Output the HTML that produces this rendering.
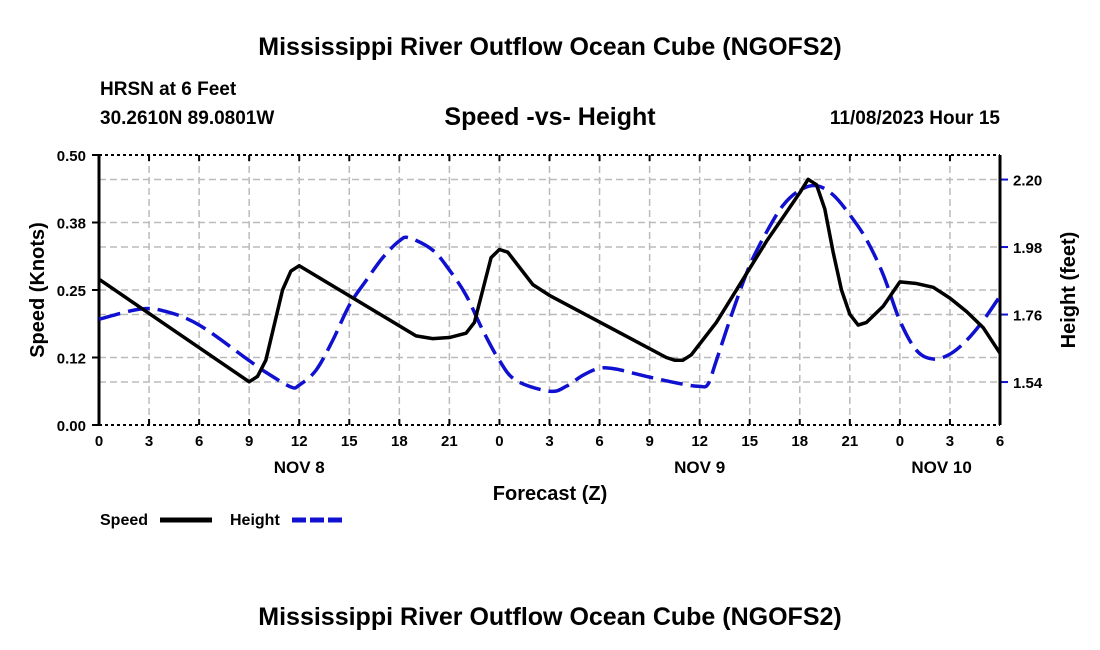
<!DOCTYPE html>
<html><head><meta charset="utf-8"><style>
body{margin:0;background:#fff;}
svg{display:block;font-family:"Liberation Sans",sans-serif;font-weight:bold;}
</style></head><body>
<svg id="chart" width="1100" height="650">
<text x="550" y="55" font-size="25" text-anchor="middle">Mississippi River Outflow Ocean Cube (NGOFS2)</text>
<text x="100" y="95" font-size="19">HRSN at 6 Feet</text>
<text x="100" y="124" font-size="19">30.2610N  89.0801W</text>
<text x="550" y="125" font-size="25" text-anchor="middle">Speed -vs- Height</text>
<text x="1000" y="124" font-size="19" text-anchor="end">11/08/2023 Hour 15</text>
<g id="grid"></g>
<g id="axes"></g>
<g id="series"></g>
<text transform="translate(44,290) rotate(-90)" font-size="20" text-anchor="middle">Speed (Knots)</text>
<text transform="translate(1075,290) rotate(-90)" font-size="20" text-anchor="middle">Height (feet)</text>
<text x="550" y="500" font-size="20" text-anchor="middle">Forecast (Z)</text>
<g>
<text x="100" y="525" font-size="16">Speed</text>
<line x1="160" y1="520" x2="212" y2="520" stroke="#000" stroke-width="5"/>
<text x="230" y="525" font-size="16">Height</text>
<line x1="292" y1="520" x2="342" y2="520" stroke="#1010d0" stroke-width="5" stroke-dasharray="14,4"/>
</g>
<text x="550" y="625" font-size="25" text-anchor="middle">Mississippi River Outflow Ocean Cube (NGOFS2)</text>
</svg>
<script>
const xTickLabels=["0","3","6","9","12","15","18","21","0","3","6","9","12","15","18","21","0","3","6"];
const dayLabels=["NOV 8","NOV 9","NOV 10"];
const dayHours=[12,36,50.5];
const speedTicks=[0,0.125,0.25,0.375,0.5];
const speedTickLabels=["0.00","0.12","0.25","0.38","0.50"];
const heightTicks=[1.54,1.76,1.98,2.20];
const heightTickLabels=["1.54","1.76","1.98","2.20"];
const speedHours=[0,9,9.5,10,11,11.5,12,19,20,21,22,22.5,23,23.5,24,24.5,25,26,27,34,34.5,35,35.5,36,37,38,39,40,41,42,42.5,43,43.5,44,44.5,45,45.5,46,47,48,49,50,51,52,53,54];
const speedValues=[0.27,0.08,0.09,0.12,0.25,0.285,0.295,0.165,0.16,0.162,0.17,0.19,0.25,0.31,0.325,0.32,0.3,0.26,0.24,0.125,0.12,0.12,0.13,0.15,0.19,0.24,0.29,0.34,0.385,0.43,0.455,0.445,0.4,0.32,0.25,0.205,0.185,0.19,0.22,0.265,0.262,0.255,0.235,0.21,0.18,0.133];
const heightHours=[0,2.5,4,6,9,10,11.5,12,13,14,15,16,17,18,18.6,20,21,22,23,24,25,27,28,29,30,31,33,35,36,36.5,37,38,39,40,41,42,43,44,45,46,47,48,49,50,51,52,53,54];
const heightValues=[1.745,1.778,1.77,1.726,1.61,1.572,1.524,1.53,1.578,1.675,1.79,1.87,1.945,2.0,2.01,1.97,1.905,1.823,1.709,1.61,1.545,1.51,1.526,1.562,1.585,1.582,1.556,1.533,1.526,1.533,1.61,1.773,1.92,2.028,2.116,2.165,2.18,2.15,2.085,2.004,1.89,1.74,1.643,1.615,1.631,1.676,1.741,1.82];
const X0=99,X1=1000,Y0=425,Y1=155,HMAX=54;
const xs=h=>X0+(X1-X0)*h/HMAX;
const ys=v=>Y0-(Y0-Y1)*v/0.5;
const HMIN=1.40,HTOP=2.28;
const yh=v=>Y0-(Y0-Y1)*(v-HMIN)/(HTOP-HMIN);
const NS="http://www.w3.org/2000/svg";
function mk(p,t,a){const e=document.createElementNS(NS,t);for(const k in a)e.setAttribute(k,a[k]);p.appendChild(e);return e;}
const grid=document.getElementById('grid'),axes=document.getElementById('axes'),ser=document.getElementById('series');
xTickLabels.forEach((l,i)=>{const x=xs(i*3);
 if(i>0&&i<xTickLabels.length-1){const g=mk(grid,'line',{x1:x,x2:x,y1:Y1,y2:Y0,stroke:'#bbb','stroke-width':1.5,'stroke-dasharray':'7,4'});
 
 }
 const t=mk(axes,'text',{x:x,y:Y0+21,'font-size':15,'text-anchor':'middle'});t.textContent=l;
 
 
 mk(axes,'line',{x1:x,x2:x,y1:Y0,y2:Y0-6,stroke:'#000','stroke-width':2});
 mk(axes,'line',{x1:x,x2:x,y1:Y1,y2:Y1+6,stroke:'#000','stroke-width':2});
});
dayLabels.forEach((l,i)=>{const t=mk(axes,'text',{x:xs(dayHours[i]),y:Y0+48,'font-size':17,'text-anchor':'middle'});t.textContent=l;
 
 });
speedTicks.forEach((v,i)=>{const y=ys(v);
 if(i>0&&i<speedTicks.length-1){const g=mk(grid,'line',{x1:X0,x2:X1,y1:y,y2:y,stroke:'#bbb','stroke-width':1.5,'stroke-dasharray':'7,4'});
 
 }
 mk(axes,'line',{x1:X0-7,x2:X0,y1:y,y2:y,stroke:'#000','stroke-width':2});
 const t=mk(axes,'text',{x:X0-13,y:y+6,'font-size':15,'text-anchor':'end'});t.textContent=speedTickLabels[i];
 
 });
heightTicks.forEach((v,i)=>{const y=yh(v);
 const g=mk(grid,'line',{x1:X0,x2:X1,y1:y,y2:y,stroke:'#bbb','stroke-width':1.5,'stroke-dasharray':'7,4'});
 
 
 mk(axes,'line',{x1:X1,x2:X1+8,y1:y,y2:y,stroke:'#1010d0','stroke-width':2});
 const t=mk(axes,'text',{x:X1+13,y:y+6,'font-size':15});t.textContent=heightTickLabels[i];
 
 });
mk(axes,'line',{x1:X0,x2:X1,y1:Y1,y2:Y1,stroke:'#000','stroke-width':2,'stroke-dasharray':'3,3'});
mk(axes,'line',{x1:X0,x2:X1,y1:Y0,y2:Y0,stroke:'#000','stroke-width':2,'stroke-dasharray':'3,3'});
mk(axes,'line',{x1:X0,x2:X0,y1:Y1,y2:Y0,stroke:'#000','stroke-width':3});
mk(axes,'line',{x1:X1,x2:X1,y1:Y1,y2:Y0,stroke:'#000','stroke-width':3});
function smooth(pts){let d='M'+pts[0][0]+','+pts[0][1];
 for(let i=0;i<pts.length-1;i++){const p0=pts[Math.max(0,i-1)],p1=pts[i],p2=pts[i+1],p3=pts[Math.min(pts.length-1,i+2)];
 d+=' C'+(p1[0]+(p2[0]-p0[0])/6)+','+(p1[1]+(p2[1]-p0[1])/6)+' '+(p2[0]-(p3[0]-p1[0])/6)+','+(p2[1]-(p3[1]-p1[1])/6)+' '+p2[0]+','+p2[1];}
 return d;}
const hp=heightHours.map((h,i)=>[xs(h),yh(heightValues[i])]);
const hl=mk(ser,'path',{d:smooth(hp),fill:'none',stroke:'#1010d0','stroke-width':3.5,'stroke-dasharray':'22,8'});


const sp=speedHours.map((h,i)=>[xs(h),ys(speedValues[i])]);
const sl=mk(ser,'polyline',{points:sp.map(p=>p.join(',')).join(' '),fill:'none',stroke:'#000','stroke-width':3.5,'stroke-linejoin':'round'});


</script>
</body></html>
